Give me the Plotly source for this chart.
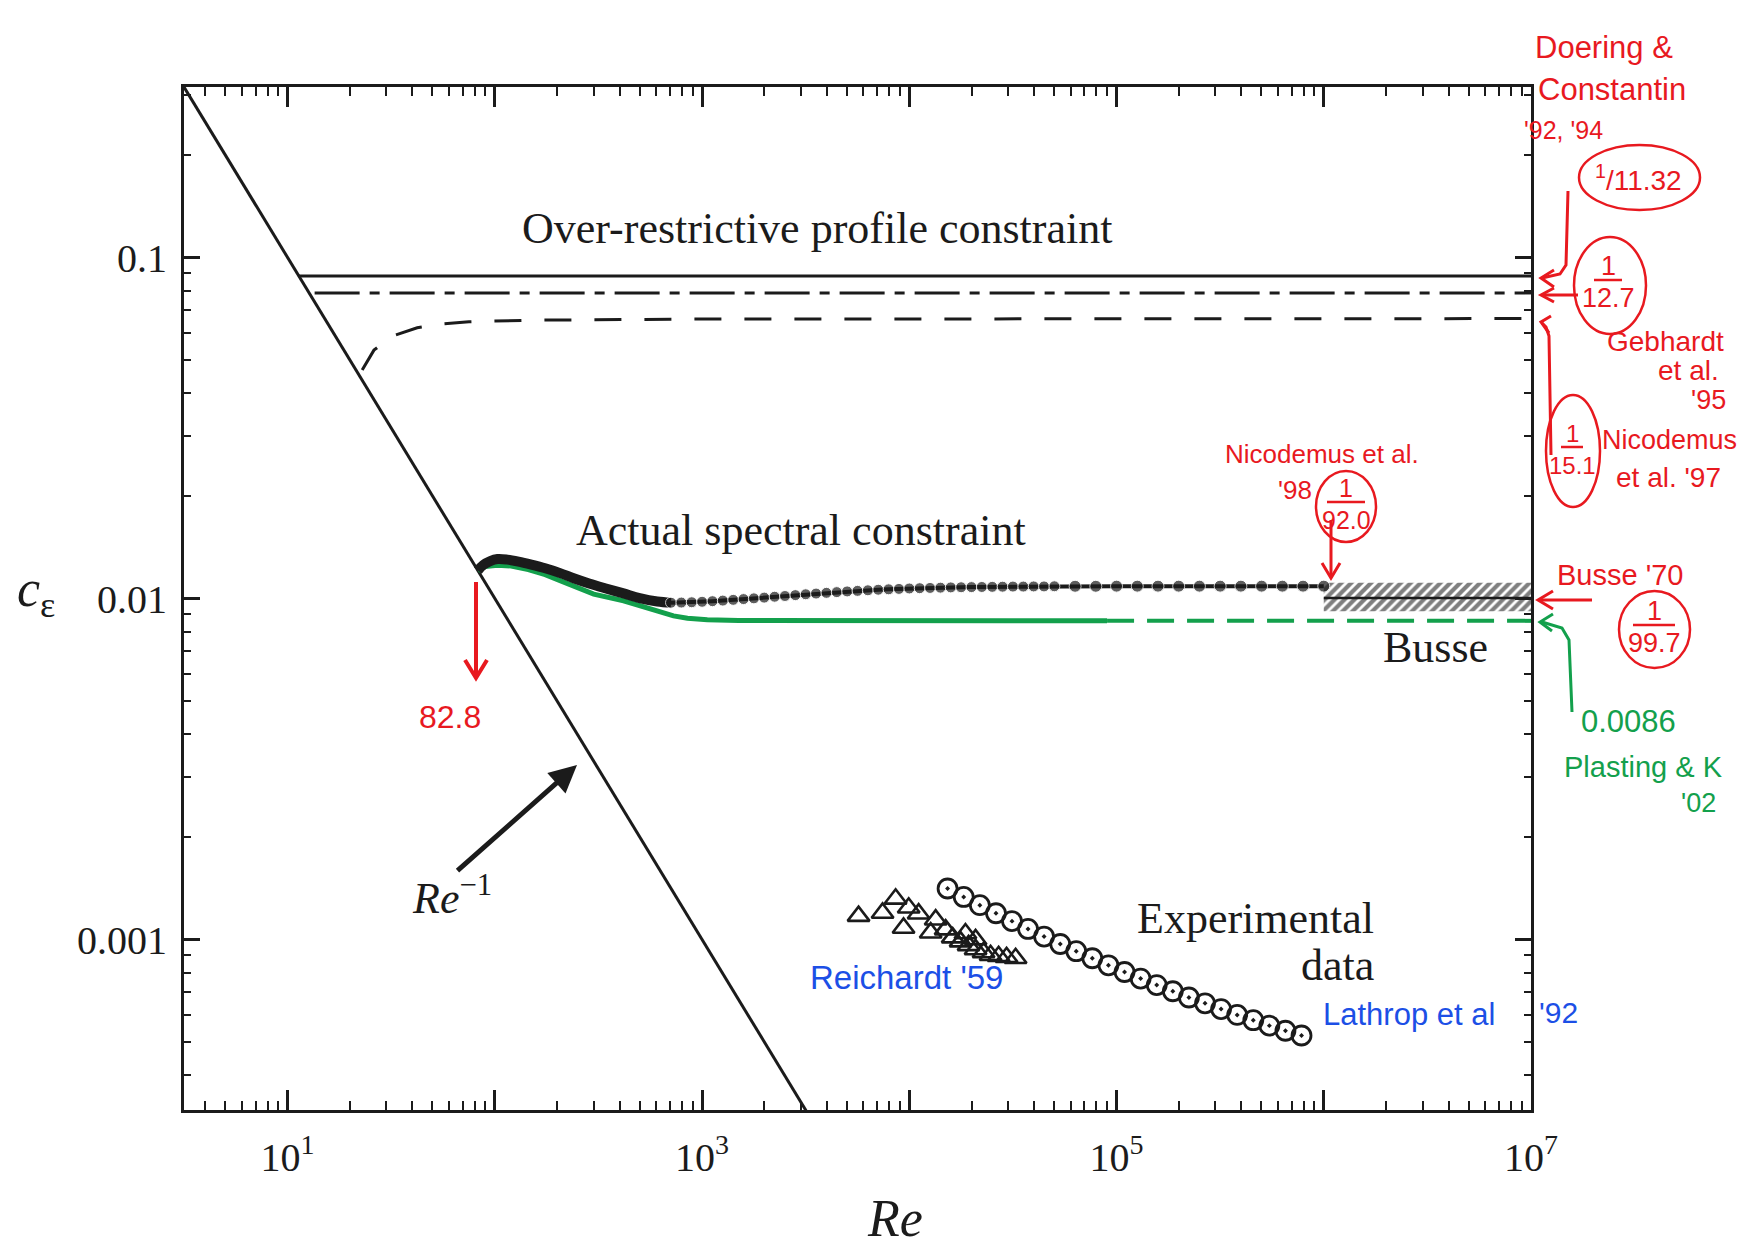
import plotly.graph_objects as go

# ---------------------------------------------------------------------------
# Data: energy-dissipation coefficient c_eps versus Reynolds number Re
# ---------------------------------------------------------------------------

# Re^-1 laminar line
laminar_re = [3.0, 3400.0]
laminar_c = [0.3333, 0.000294]

# Over-restrictive profile constraint (Doering & Constantin), 1/11.32
dc_re = [11.32, 1.0e7]
dc_c = [0.0883, 0.0883]

# Gebhardt et al. '95, 1/12.7
gebhardt_re = [13.5, 1.0e7]
gebhardt_c = [0.0787, 0.0787]

# Nicodemus et al. '97, 1/15.1
nic97_re = [22.9, 26.1, 32.0, 42.2, 54.7, 75.0, 150.0, 1000.0, 1.0e7]
nic97_c = [0.0468, 0.0535, 0.0588, 0.0622, 0.0638, 0.0648, 0.0655, 0.0660, 0.0662]

# Actual spectral constraint (Nicodemus et al. '98): continuous low-Re part
spectral_core_re = [82.8, 88, 95, 103, 115, 130, 150, 175, 205, 240, 285, 340,
                    418, 500, 608, 708]
spectral_core_c = [0.01208, 0.01255, 0.01288, 0.01305, 0.01300, 0.01283, 0.01257,
                   0.01226, 0.01189, 0.01147, 0.01107, 0.01072, 0.01035, 0.01003,
                   0.00980, 0.00972]

# Actual spectral constraint: computed points
spectral_pts_re = [708, 794, 891, 1000, 1122, 1259, 1413, 1585, 1778, 1995, 2239,
                   2512, 2818, 3162, 3548, 3981, 4467, 5012, 5623, 6310, 7079, 7943,
                   8913, 10000, 11220, 12590, 14130, 15850, 17780, 19950, 22390,
                   25120, 28180, 31620, 35480, 39810, 44670, 50120,
                   63100, 79430, 100000, 125900, 158500, 199500, 251200, 316200,
                   398100, 501200, 631000, 794300, 1000000]
spectral_pts_c = [0.00972, 0.00973, 0.00975, 0.00978, 0.00982, 0.00986, 0.00991,
                  0.00996, 0.01001, 0.01006, 0.01012, 0.01017, 0.01023, 0.01029,
                  0.01034, 0.01039, 0.01044, 0.01049, 0.01053, 0.01057, 0.01061,
                  0.01064, 0.01067, 0.01070, 0.01072, 0.01074, 0.01076, 0.01078,
                  0.01079, 0.01080, 0.01081, 0.01082, 0.01083, 0.01084, 0.01084,
                  0.01085, 0.01085, 0.01086,
                  0.01086, 0.01086, 0.01087, 0.01087, 0.01087, 0.01087, 0.01087,
                  0.01087, 0.01087, 0.01087, 0.01087, 0.01087, 0.01087]

# Plasting & Kerswell '02 (computed, then asymptote 0.0086)
plasting_re = [82.8, 90, 103, 120, 145, 175, 205, 240, 300, 418, 500, 608, 728,
               850, 1060, 1500, 3200, 10000, 30000, 90000]
plasting_c = [0.01208, 0.01240, 0.01252, 0.01245, 0.01215, 0.01175, 0.01130,
              0.01085, 0.01030, 0.00985, 0.00952, 0.00920, 0.00889, 0.00875,
              0.00866, 0.00862, 0.00860, 0.00860, 0.00860, 0.00860]
plasting_asym_re = [90000, 1.0e7]
plasting_asym_c = [0.0086, 0.0086]

# Busse '70 asymptotic band and value 1/99.7
busse_band_re = [1.0e6, 1.0e7, 1.0e7, 1.0e6, 1.0e6]
busse_band_c = [0.00918, 0.00918, 0.01112, 0.01112, 0.00918]
busse_re = [1.0e6, 1.0e7]
busse_c = [0.01003, 0.01003]

# Experimental data: Reichardt '59 (triangles)
reichardt_re = [5690, 7430, 8590, 9380, 9930, 11090, 12680, 13400, 14970, 16190,
                17680, 19320, 20880, 22820, 24670, 26980, 29470, 32580, 18660, 20880]
reichardt_c = [0.001171, 0.001196, 0.001316, 0.001081, 0.001239, 0.001190,
               0.001047, 0.001143, 0.001069, 0.001013, 0.000986, 0.000961,
               0.000935, 0.000916, 0.000899, 0.000893, 0.000887, 0.000881,
               0.001041, 0.001000]

# Experimental data: Lathrop et al. '92 (circles)
lathrop_re = [15300, 18300, 21900, 26200, 31300, 37400, 44700, 53500, 63900,
              76400, 91400, 109300, 130700, 156300, 186900, 223500, 267300,
              319500, 382100, 456900, 546300, 653300, 781000]
lathrop_c = [0.001411, 0.001333, 0.001261, 0.001194, 0.001132, 0.001074, 0.001020,
             0.000970, 0.000924, 0.000881, 0.000840, 0.000803, 0.000768, 0.000735,
             0.000705, 0.000676, 0.000650, 0.000625, 0.000601, 0.000580, 0.000559,
             0.000540, 0.000523]

# Axis ticks
x_major = [1e1, 1e2, 1e3, 1e4, 1e5, 1e6, 1e7]
x_major_text = ["10<sup>1</sup>", "", "10<sup>3</sup>", "", "10<sup>5</sup>", "",
                "10<sup>7</sup>"]
y_major = [0.001, 0.01, 0.1]
y_major_text = ["0.001", "0.01", "0.1"]

# ---------------------------------------------------------------------------
# Styling
# ---------------------------------------------------------------------------
INK = "#1b1b1b"
RED = "#e8191f"
GREEN = "#13a04c"
BLUE = "#1c4fe6"
SERIF = "Liberation Serif, Times New Roman, serif"
HAND = "Liberation Sans, Arial, sans-serif"

W, H = 1744, 1246
PL, PR, PT, PB = 184, 1531, 87, 1110   # plot box in page pixels


def paper(px, py):
    return (px - PL) / (PR - PL), (PB - py) / (PB - PT)


fig = go.Figure()

fig.add_trace(go.Scatter(x=laminar_re, y=laminar_c, mode="lines",
                         line=dict(color=INK, width=3)))
fig.add_trace(go.Scatter(x=dc_re, y=dc_c, mode="lines",
                         line=dict(color=INK, width=3)))
fig.add_trace(go.Scatter(x=gebhardt_re, y=gebhardt_c, mode="lines",
                         line=dict(color=INK, width=3, dash="45px,10px,10px,10px")))
fig.add_trace(go.Scatter(x=nic97_re, y=nic97_c, mode="lines",
                         line=dict(color=INK, width=3, dash="27px,23px")))

# Busse band (hatched)
fig.add_trace(go.Scatter(x=busse_band_re, y=busse_band_c, mode="lines",
                         fill="toself", fillcolor="rgba(0,0,0,0)",
                         line=dict(width=0, color="rgba(0,0,0,0)"),
                         fillpattern=dict(shape="/", size=7, solidity=0.6,
                                          fgcolor="#000000", bgcolor="white")))
fig.add_trace(go.Scatter(x=busse_re, y=busse_c, mode="lines",
                         line=dict(color=INK, width=2.5)))

# Plasting & Kerswell
fig.add_trace(go.Scatter(x=plasting_re, y=plasting_c, mode="lines",
                         line=dict(color=GREEN, width=5)))
fig.add_trace(go.Scatter(x=plasting_asym_re, y=plasting_asym_c, mode="lines",
                         line=dict(color=GREEN, width=4, dash="27px,13px")))

# Actual spectral constraint
fig.add_trace(go.Scatter(x=spectral_core_re, y=spectral_core_c, mode="lines",
                         line=dict(color=INK, width=10, shape="spline")))
pt_sizes = [11 if r < 60000 else 12 for r in spectral_pts_re]
fig.add_trace(go.Scatter(x=spectral_pts_re, y=spectral_pts_c, mode="lines+markers",
                         line=dict(color=INK, width=4),
                         marker=dict(color=INK, size=pt_sizes, symbol="circle")))

# Experimental data
fig.add_trace(go.Scatter(x=reichardt_re, y=reichardt_c, mode="markers",
                         marker=dict(symbol="triangle-up-open", size=19, color=INK,
                                     line=dict(width=2.6, color=INK))))
fig.add_trace(go.Scatter(x=lathrop_re, y=lathrop_c, mode="markers",
                         marker=dict(symbol="circle-open-dot", size=19, color=INK,
                                     line=dict(width=2.8, color=INK))))

annotations = []
shapes = []


def text(s, px, py, size, color=INK, family=SERIF, xanchor="center"):
    x, y = paper(px, py)
    annotations.append(dict(text=s, x=x, y=y, xref="paper", yref="paper",
                            showarrow=False, xanchor=xanchor, yanchor="middle",
                            font=dict(family=family, size=size, color=color)))


def stroke(points, color, width=3):
    pts = [paper(px, py) for px, py in points]
    path = "M " + " L ".join(f"{x:.5f},{y:.5f}" for x, y in pts)
    shapes.append(dict(type="path", path=path, xref="paper", yref="paper",
                       line=dict(color=color, width=width)))


def ellipse(x0, y0, x1, y1, color, width=2.5):
    a0, b0 = paper(x0, y1)
    a1, b1 = paper(x1, y0)
    shapes.append(dict(type="circle", xref="paper", yref="paper",
                       x0=a0, y0=b0, x1=a1, y1=b1,
                       line=dict(color=color, width=width)))


def fraction(num, den, cx, cy, half, size, color):
    text(num, cx, cy - 19, size, color, HAND)
    stroke([(cx - half, cy - 5), (cx + half, cy - 5)], color, 2.5)
    text(den, cx, cy + 13, size, color, HAND)


# Printed labels
text("Over-restrictive profile constraint", 817, 228, 44)
text("Actual spectral constraint", 801, 530, 44)
text("Busse", 1435, 647, 44)
text("Experimental", 1376, 919, 44, xanchor="right")
text("data", 1376, 965, 44, xanchor="right")
text("<i>Re</i><sup>−1</sup>", 452, 895, 44)
text("<i>c</i><sub>ε</sub>", 36, 592, 52)
text("<i>Re</i>", 895, 1218, 52)

# Re^-1 pointer arrow
hx, hy = paper(577, 765)
annotations.append(dict(x=hx, y=hy, xref="paper", yref="paper", text="",
                        showarrow=True, ax=456 - 577, ay=872 - 765,
                        axref="pixel", ayref="pixel",
                        arrowhead=2, arrowsize=1.1, arrowwidth=5, arrowcolor=INK))

# Handwritten notes: Doering & Constantin
text("Doering &", 1604, 47, 31, RED, HAND)
text("Constantin", 1612, 89, 31, RED, HAND)
text("'92, '94", 1563, 130, 25, RED, HAND)
text("<sup>1</sup>/11.32", 1638, 178, 28, RED, HAND)
ellipse(1579, 145, 1700, 210, RED)
stroke([(1568, 191), (1566, 265), (1560, 274), (1542, 278)], RED)
stroke([(1554, 270), (1541, 278), (1554, 287)], RED)

# Gebhardt et al.
fraction("1", "12.7", 1608, 285, 14, 27, RED)
ellipse(1574, 237, 1646, 334, RED)
stroke([(1578, 295), (1542, 295)], RED)
stroke([(1554, 288), (1541, 295), (1554, 302)], RED)
text("Gebhardt", 1665, 341, 28, RED, HAND)
text("et al.", 1688, 370, 28, RED, HAND)
text("'95", 1708, 400, 27, RED, HAND)

# Nicodemus et al. '97
fraction("1", "15.1", 1572, 452, 11, 24, RED)
ellipse(1546, 395, 1600, 507, RED)
stroke([(1551, 455), (1549, 336), (1546, 327), (1542, 323)], RED)
stroke([(1551, 316), (1541, 322), (1549, 333)], RED)
text("Nicodemus", 1669, 440, 27, RED, HAND)
text("et al. '97", 1668, 477, 28, RED, HAND)

# Nicodemus et al. '98
text("Nicodemus et al.", 1322, 454, 26, RED, HAND)
text("'98", 1295, 490, 26, RED, HAND)
fraction("1", "92.0", 1346, 507, 19, 25, RED)
ellipse(1316, 471, 1376, 542, RED)
stroke([(1331, 520), (1331, 577)], RED)
stroke([(1322, 563), (1331, 578), (1340, 563)], RED)

# Busse '70
text("Busse '70", 1620, 575, 29, RED, HAND)
fraction("1", "99.7", 1654, 630, 21, 27, RED)
ellipse(1619, 591, 1690, 668, RED)
stroke([(1592, 600), (1539, 600)], RED)
stroke([(1553, 591), (1538, 600), (1553, 609)], RED)

# 82.8 onset marker
stroke([(476, 582), (476, 676)], RED, 4)
stroke([(465, 660), (476, 678), (487, 660)], RED, 4)
text("82.8", 450, 717, 32, RED, HAND)

# Plasting & Kerswell note
text("0.0086", 1629, 721, 31, GREEN, HAND)
text("Plasting & K", 1643, 767, 29, GREEN, HAND)
text("'02", 1698, 803, 27, GREEN, HAND)
stroke([(1572, 712), (1569, 640), (1562, 628), (1542, 622)], GREEN)
stroke([(1553, 614), (1540, 622), (1552, 631)], GREEN)

# Experimental references
text("Reichardt '59", 906, 977, 33, BLUE, HAND)
text("Lathrop et al", 1409, 1014, 31, BLUE, HAND)
text("'92", 1558, 1012, 30, BLUE, HAND)

x_minor = [k * 10 ** d for d in range(0, 7) for k in range(2, 10)]
y_minor = [k * 10.0 ** d for d in range(-4, 0) for k in range(2, 10)]

fig.update_layout(
    width=W, height=H,
    margin=dict(l=PL, r=W - PR, t=PT, b=H - PB),
    paper_bgcolor="white", plot_bgcolor="white",
    showlegend=False,
    annotations=annotations,
    shapes=shapes,
    xaxis=dict(type="log", range=[0.5, 7], showgrid=False, zeroline=False,
               showline=True, linecolor=INK, linewidth=3, mirror="ticks",
               ticks="inside", ticklen=20, tickwidth=2.5, tickcolor=INK,
               tickmode="array", tickvals=x_major, ticktext=x_major_text,
               tickfont=dict(family=SERIF, size=40, color=INK),
               ticklabelstandoff=10,
               minor=dict(ticks="inside", ticklen=9, tickwidth=2, tickcolor=INK,
                          tickmode="array", tickvals=x_minor, showgrid=False)),
    yaxis=dict(type="log", range=[-3.5, -0.5], showgrid=False, zeroline=False,
               showline=True, linecolor=INK, linewidth=3, mirror="ticks",
               ticks="inside", ticklen=16, tickwidth=2.5, tickcolor=INK,
               tickmode="array", tickvals=y_major, ticktext=y_major_text,
               tickfont=dict(family=SERIF, size=40, color=INK),
               ticklabelstandoff=6,
               minor=dict(ticks="inside", ticklen=7, tickwidth=2, tickcolor=INK,
                          tickmode="array", tickvals=y_minor, showgrid=False)),
)

fig.write_html("out.html")
